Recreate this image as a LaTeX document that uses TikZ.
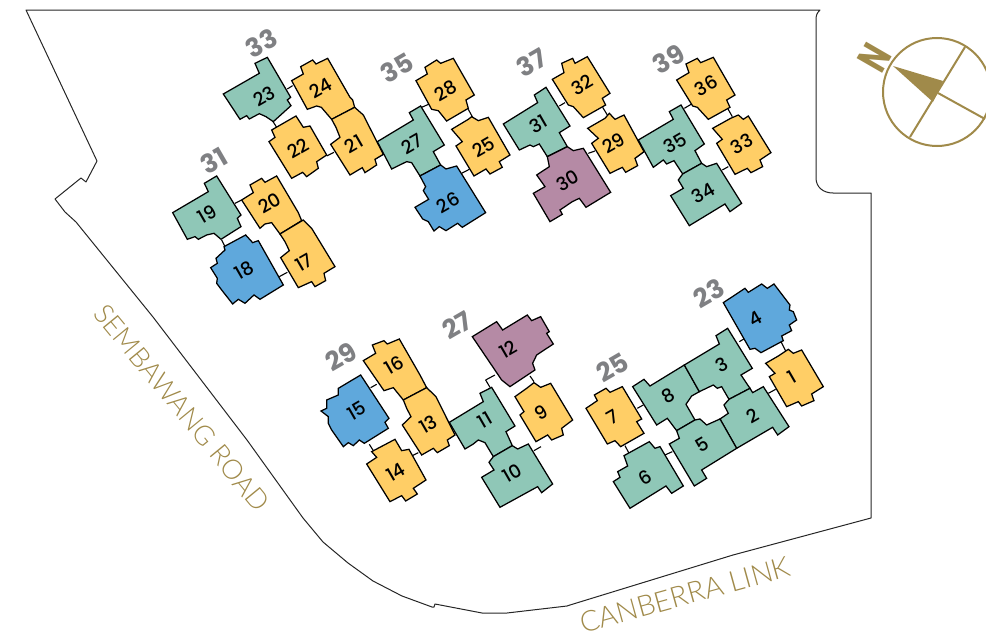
\documentclass[tikz,border=0pt]{standalone}
\usepackage{fontspec}
\setmainfont{Poppins}
\newfontfamily\unitfont{Poppins Medium}
\newfontfamily\roadfont{Lato Light}

\definecolor{tealblock}{HTML}{8FC7B7}
\definecolor{yellowblock}{HTML}{FFCE66}
\definecolor{blueblock}{HTML}{5FA8DC}
\definecolor{mauveblock}{HTML}{B58AA5}
\definecolor{goldroad}{HTML}{A08A4A}
\definecolor{greynum}{HTML}{7F8083}

\tikzset{
  cluster/.style 2 args={shift={(#1,#2)},x=0.3333pt,y=-0.3333pt},
  block/.style={draw=black,line width=1.25pt,line join=miter},
  teal/.style={block,fill=tealblock},
  yellow/.style={block,fill=yellowblock},
  blue/.style={block,fill=blueblock},
  mauve/.style={block,fill=mauveblock},
  link/.style={draw=black,line width=1.1pt},
  site/.style={draw=black!85,line width=1pt,line join=round},
  unitnum/.style={rotate=30,inner sep=0pt,text=black,font=\unitfont\fontsize{18.5}{18.5}\selectfont},
  streetnum/.style={rotate=30,inner sep=0pt,text=greynum,font=\bfseries\fontsize{26}{26}\selectfont},
  roadname/.style={inner sep=0pt,text=goldroad,font=\roadfont\fontsize{#1}{#1}\selectfont}
}

\begin{document}
\begin{tikzpicture}[x=1pt,y=-1pt]
\useasboundingbox (0,0) rectangle (986,637);

% site boundary
\draw[site] (26,10) -- (820,10) .. controls (817,13) and (816,15) .. (816,20) -- (816,178)
  .. controls (816,187) and (823,193) .. (833,193) -- (871,193) -- (871,518) -- (733,555) -- (570,605)
  -- (567,606) -- (507,613) -- (482,613) -- (435,604) -- (434,607) -- (432,607) -- (402,596) -- (373,581)
  -- (348,563) -- (323,542) -- (303,518) -- (247,440) -- (153,317) -- (76,222) -- (65,212) -- (55,199)
  -- (81,178) -- (86,182) -- (97,161) -- cycle;

% upper left group
\begin{scope}[cluster={160}{20}]
\foreach \ax/\ay/\bx/\by in {382/207/398/197,338/303/350/322,500/408/522/397,785/262/808/252,925/268/938/292,
    905/460/928/448,225/550/245/540,185/660/195/680,358/770/382/757,645/418/670/403}
  \draw[link] (\ax,\ay) -- (\bx,\by);
\draw[teal] plot coordinates {(285,130)(322,112)(392,232)(382,240)(393,257)(340,305)(318,290)(298,281)(268,297)(260,287)(240,298)(190,222)(298,160)} -- cycle;
\draw[yellow] plot coordinates {(395,182)(430,162)(422,140)(458,120)(468,132)(503,115)(570,232)(578,240)(584,262)(515,298)(484,262)(470,258)(442,268)} -- cycle;
\draw[yellow] plot coordinates {(515,298)(584,262)(610,285)(670,403)(645,418)(650,435)(615,458)(607,443)(570,465)(512,373)(540,352)(528,322)} -- cycle;
\draw[yellow] plot coordinates {(327,365)(345,352)(335,330)(408,288)(430,322)(450,318)(500,405)(470,425)(475,445)(440,470)(428,457)(395,475)} -- cycle;
\draw[teal] plot coordinates {(652,365)(760,300)(748,278)(782,258)(853,375)(820,395)(842,435)(780,468)(755,428)(740,425)(695,447)} -- cycle;
\draw[yellow] plot coordinates {(768,182)(802,162)(795,142)(830,120)(842,130)(880,115)(943,225)(918,240)(925,265)(860,303)(835,272)(815,268)} -- cycle;
\draw[yellow] plot coordinates {(875,328)(925,298)(935,290)(955,302)(985,292)(1050,405)(1018,425)(1027,442)(990,462)(978,447)(942,468)(888,378)(907,365)} -- cycle;
\draw[blue] plot coordinates {(780,468)(842,435)(858,447)(890,438)(977,578)(907,622)(893,610)(858,632)(838,620)(822,633)(805,605)(788,597)(765,562)(806,538)(790,512)(797,500)} -- cycle;
\draw[teal] plot coordinates {(133,490)(170,468)(243,585)(232,595)(243,620)(183,658)(162,640)(140,645)(115,658)(105,650)(82,658)(38,578)(145,515)} -- cycle;
\draw[yellow] plot coordinates {(245,540)(280,518)(270,495)(305,475)(315,487)(350,468)(415,578)(425,602)(360,642)(335,608)(315,612)(300,625)} -- cycle;
\draw[yellow] plot coordinates {(360,642)(430,600)(455,625)(525,740)(492,760)(497,782)(465,800)(455,785)(415,803)(362,713)(388,692)(375,665)} -- cycle;
\draw[blue] plot coordinates {(152,743)(172,730)(168,715)(195,690)(192,680)(257,645)(278,668)(295,662)(370,795)(300,838)(282,825)(255,850)(235,838)(218,852)(185,810)(170,790)(172,775)} -- cycle;
\foreach \n/\px/\py in {23/312/228,24/482/205,22/415/385,21/582/372,27/757/372,28/858/212,25/970/382,26/865/548,19/142/582,20/330/550,17/432/727,18/252/750}
  \node[unitnum] (u\n) at (\px,\py) {\n};
\foreach \n/\px/\py in {33/305/70,35/712/145,31/162/422}
  \node[streetnum] (s\n) at (\px,\py) {\n};
\end{scope}

% upper right group
\begin{scope}[cluster={490}{20}]
\foreach \ax/\ay/\bx/\by in {208/258/225/248,338/262/352/285,295/400/315/393,435/415/462/395,583/265/605/252,713/265/727/290,697/450/715/440}
  \draw[link] (\ax,\ay) -- (\bx,\by);
\draw[yellow] plot coordinates {(187,178)(222,158)(215,130)(248,115)(255,130)(292,110)(360,220)(337,235)(347,255)(280,293)(250,260)(235,255)} -- cycle;
\draw[teal] plot coordinates {(40,312)(143,248)(133,225)(168,202)(240,318)(208,338)(232,380)(172,410)(148,372)(130,380)(120,375)(88,390)} -- cycle;
\draw[yellow] plot coordinates {(293,325)(345,295)(358,280)(375,298)(402,285)(462,395)(435,415)(443,437)(407,457)(397,442)(360,460)(305,370)(325,355)} -- cycle;
\draw[mauve] plot coordinates {(172,410)(232,380)(250,392)(280,385)(362,517)(288,562)(268,535)(247,545)(210,570)(217,583)(180,605)(130,520)(165,500)(140,465)(178,440)} -- cycle;
\draw[teal] plot coordinates {(445,360)(550,298)(538,275)(573,255)(643,372)(615,392)(635,430)(578,462)(552,422)(530,432)(520,420)(490,442)} -- cycle;
\draw[teal] plot coordinates {(578,462)(635,430)(650,440)(680,430)(755,550)(720,575)(705,552)(598,617)(542,527)(580,505)(565,480)} -- cycle;
\draw[yellow] plot coordinates {(560,180)(597,158)(588,132)(622,115)(632,128)(670,112)(735,225)(710,240)(720,262)(655,298)(622,262)(608,258)} -- cycle;
\draw[yellow] plot coordinates {(668,325)(722,295)(745,285)(760,298)(775,288)(843,398)(810,420)(818,440)(783,458)(772,445)(735,463)(680,370)(697,358)} -- cycle;
\foreach \n/\px/\py in {32/277/195,31/145/312,29/372/370,30/233/482,35/555/370,34/640/520,36/648/197,33/755/372}
  \node[unitnum] (u\n) at (\px,\py) {\n};
\foreach \n/\px/\py in {37/125/128,39/535/118}
  \node[streetnum] (s\n) at (\px,\py) {\n};
\end{scope}

% lower left group
\begin{scope}[cluster={310}{300}]
\foreach \ax/\ay/\bx/\by in {182/263/200/253,178/433/190/452,305/468/325/458,412/418/435/405,555/225/527/240,527/240/540/262,660/228/672/245,672/452/693/440}
  \draw[link] (\ax,\ay) -- (\bx,\by);
\draw[mauve] plot coordinates {(487,110)(560,65)(578,90)(652,45)(665,62)(692,50)(718,95)(710,100)(730,132)(680,165)(668,190)(675,210)(600,260)(575,240)} -- cycle;
\draw[yellow] plot coordinates {(615,290)(650,265)(672,248)(692,262)(722,250)(788,360)(755,385)(760,405)(725,420)(713,405)(678,425)(630,345)(642,335)} -- cycle;
\draw[yellow] plot coordinates {(160,182)(197,160)(187,135)(222,122)(232,132)(268,117)(330,225)(350,263)(280,300)(250,263)(222,272)} -- cycle;
\draw[yellow] plot coordinates {(280,300)(350,263)(378,290)(435,405)(412,420)(418,437)(382,458)(370,445)(335,465)(277,375)(303,350)(290,325)} -- cycle;
\draw[yellow] plot coordinates {(170,492)(200,472)(185,455)(255,418)(275,452)(297,448)(348,540)(310,565)(322,582)(287,603)(275,587)(240,605)} -- cycle;
\draw[blue] plot coordinates {(33,333)(50,325)(50,300)(85,285)(85,265)(152,225)(237,355)(225,367)(235,385)(163,430)(148,420)(130,437)(115,428)(100,440)(65,390)(55,370)(55,350)} -- cycle;
\draw[teal] plot coordinates {(418,367)(520,305)(510,280)(545,262)(615,378)(588,395)(607,437)(550,470)(525,428)(505,420)(490,432)(465,447)} -- cycle;
\draw[teal] plot coordinates {(550,470)(607,437)(623,447)(655,432)(728,552)(695,578)(683,560)(570,622)(515,532)(552,510)(537,487)} -- cycle;
\foreach \n/\px/\py in {12/595/147,9/692/337,16/252/195,13/355/372,14/258/517,15/140/332,11/525/360,10/607/520}
  \node[unitnum] (u\n) at (\px,\py) {\n};
\foreach \n/\px/\py in {29/92/170,27/442/75}
  \node[streetnum] (s\n) at (\px,\py) {\n};
\end{scope}

% lower right group
\begin{scope}[cluster={580}{270}]
\foreach \ax/\ay/\bx/\by in {172/415/190/405,135/527/147/550,255/555/277/545,478/215/495/205,603/215/617/243,565/370/587/358}
  \draw[link] (\ax,\ay) -- (\bx,\by);
\draw[yellow] plot coordinates {(18,415)(52,392)(43,375)(78,355)(90,367)(127,350)(185,447)(170,455)(192,490)(122,530)(105,512)(82,522)} -- cycle;
\draw[teal] plot coordinates {(100,635)(120,622)(113,605)(143,588)(132,557)(208,515)(225,535)(240,530)(310,648)(275,670)(258,648)(150,715)} -- cycle;
\draw[teal] plot coordinates {(158,350)(192,328)(210,348)(313,285)(358,365)(335,378)(318,403)(345,450)(290,482)(262,445)(230,465)} -- cycle;
\draw[teal] plot coordinates {(313,285)(418,222)(408,197)(443,175)(517,295)(483,315)(510,355)(447,388)(425,350)(412,355)(400,345)(358,365)} -- cycle;
\draw[teal] plot coordinates {(447,388)(510,355)(518,368)(550,350)(627,470)(593,495)(578,472)(470,535)(420,447)(445,430)(432,405)} -- cycle;
\draw[teal] plot coordinates {(290,482)(345,450)(360,447)(380,465)(420,447)(470,535)(365,600)(380,625)(343,648)(268,522)(298,505)} -- cycle;
\draw[blue] plot coordinates {(430,98)(495,55)(505,67)(545,42)(562,55)(582,42)(630,105)(628,120)(640,125)(650,150)(628,165)(635,182)(605,198)(610,212)(543,248)(525,235)(510,238)} -- cycle;
\draw[yellow] plot coordinates {(557,280)(595,258)(625,238)(640,250)(665,240)(730,350)(695,372)(702,392)(665,408)(655,395)(620,410)(568,320)(585,310)} -- cycle;
\foreach \n/\px/\py in {8/265/378,3/425/285,2/517/437,5/367/525,7/97/440,6/197/622,4/525/147,1/635/322}
  \node[unitnum] (u\n) at (\px,\py) {\n};
\foreach \n/\px/\py in {23/388/70,25/98/292}
  \node[streetnum] (s\n) at (\px,\py) {\n};
\end{scope}

% roads
\node[roadname=27.3,rotate=-50.6] (sembawang) at (182,408) {SEMBAWANG ROAD};
\node[roadname=28.6,rotate=15.5] (canberra) at (685,595) {CANBERRA LINK};

% north point
\draw[goldroad,line width=2pt] (937,92) circle (54);
\draw[goldroad,line width=2pt] (965,47) -- (910,137);
\draw[goldroad,line width=2pt] (938,93) -- (985,119);
\fill[goldroad] (893,66) -- (943,81) -- (933,102) -- cycle;
\node[inner sep=0pt,text=goldroad,rotate=-120,xscale=0.72,transform shape,font=\bfseries\fontsize{42}{42}\selectfont] (north) at (875,58) {N};

\end{tikzpicture}
\end{document}
